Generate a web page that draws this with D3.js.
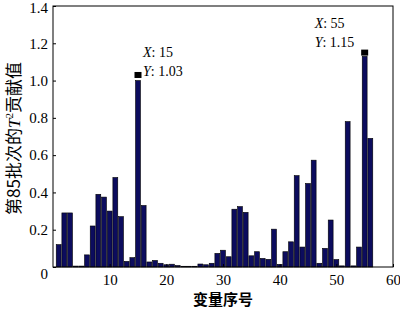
<!DOCTYPE html>
<html>
<head>
    <meta charset="UTF-8">
    <title>T2 contribution</title>
    <script src="https://d3js.org/d3.v7.min.js"></script>
    <style>
        body { margin: 0; background: #fff; }
    </style>
</head>
<body>
    <div id="chart"></div>
    <script type="text/javascript">

        // variable index 1..56 and its T^2 contribution for batch 85
        let variables = d3.range(1, 57);
        let contributions = [
            0.12, 0.29, 0.29, 0.005, 0.005, 0.065, 0.22, 0.39, 0.375, 0.30,
            0.48, 0.27, 0.03, 0.05, 1.00, 0.33, 0.027, 0.035, 0.02, 0.012,
            0.015, 0.008, 0.004, 0.004, 0.004, 0.016, 0.012, 0.02, 0.073, 0.09,
            0.055, 0.31, 0.324, 0.293, 0.06, 0.082, 0.046, 0.041, 0.203, 0.014,
            0.082, 0.135, 0.49, 0.107, 0.448, 0.573, 0.02, 0.10, 0.252, 0.04,
            0.006, 0.78, 0.006, 0.107, 1.13, 0.69
        ];
        // data tips shown on the plot
        let tipX = [15, 55];
        let tipY = [1.03, 1.15];
        let tipLabels = ["1.03", "1.15"];

        let xTicks = [10, 20, 30, 40, 50, 60];
        let yTicks = [0, 0.2, 0.4, 0.6, 0.8, 1.0, 1.2, 1.4];

        let W = 400, H = 309;
        let margin = { top: 6, right: 7, bottom: 42, left: 53 },
            width = W - margin.left - margin.right,
            height = H - margin.top - margin.bottom;

        let svg = d3.select("#chart").append("svg")
            .attr("width", W)
            .attr("height", H);

        let g = svg.append("g")
            .attr("transform", "translate(" + margin.left + "," + margin.top + ")");

        let x = d3.scaleLinear().domain([0, 60]).range([0, width]);
        let y = d3.scaleLinear().domain([0, 1.4]).range([height, 0]);

        let barW = (x(1) - x(0)) * 0.86;

        // bars
        g.selectAll("rect.bar")
            .data(variables)
            .enter()
            .append("rect")
            .attr("class", "bar")
            .attr("x", function (d) { return x(d) - barW / 2; })
            .attr("y", function (d, i) { return y(contributions[i]); })
            .attr("width", barW)
            .attr("height", function (d, i) { return height - y(contributions[i]); })
            .style("fill", "#0c0c5e")
            .style("stroke", "#000")
            .style("stroke-width", 0.6);

        // box
        g.append("rect")
            .attr("width", width)
            .attr("height", height)
            .style("fill", "none")
            .style("stroke", "#000")
            .style("stroke-width", 1);

        // axes, ticks pointing inward
        let xAxis = g.append("g")
            .attr("transform", "translate(0," + height + ")")
            .call(d3.axisBottom(x).tickValues(xTicks).tickSizeInner(-3).tickSizeOuter(0).tickPadding(7)
                .tickFormat(d3.format("d")));
        let yAxis = g.append("g")
            .call(d3.axisLeft(y).tickValues(yTicks).tickSizeInner(-3).tickSizeOuter(0).tickPadding(5)
                .tickFormat(function (d) { return d === 0 ? "0" : d3.format(".1f")(d); }));

        [xAxis, yAxis].forEach(function (a) {
            a.select(".domain").remove();
            a.selectAll("text")
                .style("font-family", "'Liberation Serif', 'DejaVu Serif', serif")
                .style("font-size", "15px")
                .style("fill", "#000");
            a.selectAll("line").style("stroke", "#000");
        });
        yAxis.selectAll(".tick").filter(function (d) { return d === 0; })
            .select("text").attr("dy", "0.75em");
        yAxis.selectAll(".tick").filter(function (d) { return d === 1.4; })
            .select("text").attr("dy", "0.45em");

        // data tip markers
        g.selectAll("rect.tip")
            .data(tipX)
            .enter()
            .append("rect")
            .attr("class", "tip")
            .attr("x", function (d) { return x(d) - 3.5; })
            .attr("y", function (d, i) { return y(tipY[i]) - 3; })
            .attr("width", 7)
            .attr("height", 6)
            .style("fill", "#000");

        function tipLeft(d, i) { return i === 0 ? x(d) + 5 : x(d) - 50; }

        let tipText = g.selectAll("text.tip")
            .data(tipX)
            .enter()
            .append("text")
            .attr("class", "tip")
            .attr("x", tipLeft)
            .attr("y", function (d, i) { return i === 0 ? y(tipY[i]) - 18 : y(tipY[i]) - 25; })
            .style("font-family", "'Liberation Serif', serif")
            .style("font-size", "14px")
            .style("fill", "#000");
        tipText.append("tspan").style("font-style", "italic").text("X");
        tipText.append("tspan").text(function (d) { return ": " + d; });
        tipText.append("tspan")
            .attr("x", tipLeft)
            .attr("dy", 19)
            .style("font-style", "italic").text("Y");
        tipText.append("tspan").text(function (d, i) { return ": " + tipLabels[i]; });

        // axis titles
        svg.append("text")
            .attr("x", margin.left + width / 2)
            .attr("y", 305)
            .attr("text-anchor", "middle")
            .style("font-family", "'Noto Sans CJK SC', sans-serif")
            .style("font-size", "15px")
            .style("font-weight", "bold")
            .style("fill", "#000")
            .text("变量序号");

        let yTitle = svg.append("text")
            .attr("transform", "translate(20," + (margin.top + height / 2 + 2) + ") rotate(-90)")
            .attr("text-anchor", "middle")
            .style("font-family", "'Noto Sans CJK SC', sans-serif")
            .style("font-size", "17px")
            .style("fill", "#000");
        yTitle.append("tspan").text("第85批次的");
        yTitle.append("tspan").style("font-family", "'Liberation Serif', serif").style("font-style", "italic").text("T");
        yTitle.append("tspan").attr("dy", -7).style("font-size", "11px").style("font-family", "'Liberation Serif', serif").text("2");
        yTitle.append("tspan").attr("dy", 7).text("贡献值");

    </script>
</body>
</html>
